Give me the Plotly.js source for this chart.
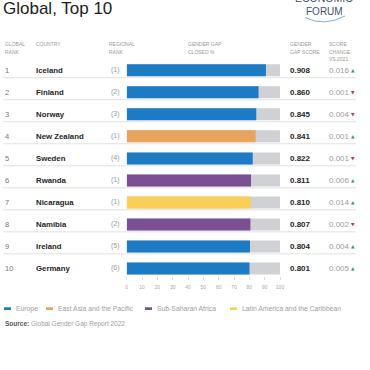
<!DOCTYPE html>
<html>
<head>
<meta charset="utf-8">
<script src="https://cdn.plot.ly/plotly-3.0.1.min.js"></script>
<style>
html,body{margin:0;padding:0;background:#fff;}
#chart{width:370px;height:370px;}
</style>
</head>
<body>
<div id="chart"></div>
<script>
// ---- data ----
const globalRank = [1, 2, 3, 4, 5, 6, 7, 8, 9, 10];
const countries = ['Iceland', 'Finland', 'Norway', 'New Zealand', 'Sweden', 'Rwanda', 'Nicaragua', 'Namibia', 'Ireland', 'Germany'];
const regionalRank = [1, 2, 3, 1, 4, 1, 1, 2, 5, 6];
const regions = ['Europe', 'Europe', 'Europe', 'East Asia and the Pacific', 'Europe', 'Sub-Saharan Africa', 'Latin America and the Caribbean', 'Sub-Saharan Africa', 'Europe', 'Europe'];
const scores = [0.908, 0.860, 0.845, 0.841, 0.822, 0.811, 0.810, 0.807, 0.804, 0.801];
const changes = [0.016, 0.001, 0.004, 0.001, 0.001, 0.006, 0.014, 0.002, 0.004, 0.005];
const changeDir = ['up', 'down', 'down', 'up', 'down', 'up', 'up', 'down', 'up', 'up'];
const regionNames = ['Europe', 'East Asia and the Pacific', 'Sub-Saharan Africa', 'Latin America and the Caribbean'];
const regionColorList = ['#1d7bc4', '#e8a35e', '#7a4f94', '#f9cf57'];
const axisTicks = [0, 10, 20, 30, 40, 50, 60, 70, 80, 90, 100];
const fullScale = 100;

// ---- layout helpers ----
const S = 370;
const fx = p => p / S;
const fy = p => 1 - p / S;
const FONT = 'Liberation Sans, Arial, Helvetica, sans-serif';
const regionColor = {};
regionNames.forEach((r, i) => regionColor[r] = regionColorList[i]);

const rowTop = 70.3, rowStep = 22.02;
const yTop = 1 - rowTop / rowStep;
const yBottom = yTop + S / rowStep;

const traces = [
  {
    type: 'bar', orientation: 'h',
    x: globalRank.map(() => fullScale), y: globalRank,
    width: 0.545, marker: {color: '#cfd1d5'},
    hoverinfo: 'skip', showlegend: false
  },
  {
    type: 'bar', orientation: 'h',
    x: scores.map(v => v * 100), y: globalRank,
    width: 0.545, marker: {color: regions.map(r => regionColor[r])},
    hoverinfo: 'skip', showlegend: false
  }
];

const annotations = [];
const shapes = [];
const ann = (o) => annotations.push(Object.assign({showarrow: false, borderpad: 0}, o));

// title
ann({text: 'Global, Top 10', xref: 'paper', yref: 'paper', x: fx(2), y: fy(8.5), xanchor: 'left', yanchor: 'middle',
  font: {family: FONT, size: 17, color: '#1c1c1c'}});

// logo
ann({text: 'ECONOMIC', xref: 'paper', yref: 'paper', x: fx(324), y: fy(-1.5), xanchor: 'center', yanchor: 'middle',
  font: {family: FONT, size: 10.5, color: '#3f5068'}});
ann({text: 'FORUM', xref: 'paper', yref: 'paper', x: fx(324), y: fy(11), xanchor: 'center', yanchor: 'middle',
  font: {family: FONT, size: 10, color: '#3f5068'}});
shapes.push({type: 'path', xref: 'paper', yref: 'paper',
  path: `M ${fx(305)} ${fy(17.5)} Q ${fx(324)} ${fy(27)} ${fx(345)} ${fy(16)}`,
  line: {color: '#86aacb', width: 1}});

// headers
const hdrFont = {family: FONT, size: 5, color: '#9a9a9a'};
const headers = [
  [3.5, ['GLOBAL', 'RANK']],
  [35, ['COUNTRY']],
  [108, ['REGIONAL', 'RANK']],
  [187, ['GENDER GAP', 'CLOSED %']],
  [289, ['GENDER', 'GAP SCORE']],
  [328, ['SCORE', 'CHANGE', 'VS 2021']]
];
const hdrY = [44, 51.5, 58.5];
headers.forEach(([x, lines]) => lines.forEach((t, k) =>
  ann({text: t, xref: 'paper', yref: 'paper', x: fx(x), y: fy(hdrY[k]), xanchor: 'left', yanchor: 'middle', font: hdrFont})));

// rows
globalRank.forEach((r, i) => {
  ann({text: String(r), xref: 'paper', yref: 'y', x: fx(4), y: r, xanchor: 'left', yanchor: 'middle',
    font: {family: FONT, size: 7.5, color: '#777'}});
  ann({text: countries[i], xref: 'paper', yref: 'y', x: fx(35), y: r, xanchor: 'left', yanchor: 'middle',
    font: {family: FONT, size: 7.8, color: '#262626', weight: 'bold'}});
  ann({text: '(' + regionalRank[i] + ')', xref: 'paper', yref: 'y', x: fx(121.5), y: r, xanchor: 'right', yanchor: 'middle',
    font: {family: FONT, size: 7, color: '#9a9a9a'}});
  ann({text: scores[i].toFixed(3), xref: 'paper', yref: 'y', x: fx(289), y: r, xanchor: 'left', yanchor: 'middle',
    font: {family: FONT, size: 8, color: '#262626', weight: 'bold'}});
  ann({text: changes[i].toFixed(3), xref: 'paper', yref: 'y', x: fx(328), y: r, xanchor: 'left', yanchor: 'middle',
    font: {family: FONT, size: 8, color: '#9c9c9c'}});
  ann({text: changeDir[i] === 'up' ? '▲' : '▼', xref: 'paper', yref: 'y', x: fx(352.5), y: r, xanchor: 'center', yanchor: 'middle',
    font: {family: 'DejaVu Sans, sans-serif', size: 4.5, color: changeDir[i] === 'up' ? '#3f9a5c' : '#c9323c'}});
  if (i < globalRank.length - 1) {
    shapes.push({type: 'line', xref: 'paper', yref: 'y', x0: fx(3), x1: fx(356), y0: r + 0.336, y1: r + 0.336,
      line: {color: '#e2e2e2', width: 1}, layer: 'below'});
  }
});

// legend
const legendX = [4, 46, 145, 230];
regionNames.forEach((name, i) => {
  shapes.push({type: 'rect', xref: 'paper', yref: 'paper', x0: fx(legendX[i]), x1: fx(legendX[i] + 7),
    y0: fy(310), y1: fy(307.3), fillcolor: regionColorList[i], line: {width: 0}});
  ann({text: name, xref: 'paper', yref: 'paper', x: fx(legendX[i] + 11), y: fy(308.5), xanchor: 'left', yanchor: 'middle',
    font: {family: FONT, size: 6.8, color: '#a0a0a0'}});
});

// source
ann({text: '<b>Source:</b> <span style="color:#a0a0a0">Global Gender Gap Report 2022</span>', xref: 'paper', yref: 'paper',
  x: fx(4), y: fy(323.5), xanchor: 'left', yanchor: 'middle', font: {family: FONT, size: 6.5, color: '#555'}});

const layout = {
  width: 370, height: 370,
  margin: {l: 0, r: 0, t: 0, b: 0, pad: 0},
  paper_bgcolor: '#fff', plot_bgcolor: 'rgba(0,0,0,0)',
  barmode: 'overlay', showlegend: false,
  xaxis: {
    domain: [fx(126.7), fx(280)], range: [0, 100],
    tickvals: axisTicks, ticktext: axisTicks.map(String),
    ticks: 'outside', ticklen: 3, tickcolor: '#dedede', tickwidth: 1,
    ticklabelstandoff: 3,
    tickfont: {family: FONT, size: 5, color: '#a8a8a8'},
    showgrid: false, zeroline: false, showline: false,
    anchor: 'free', position: fy(275.6), fixedrange: true
  },
  yaxis: {range: [yBottom, yTop], visible: false, showgrid: false, zeroline: false, fixedrange: true},
  annotations: annotations,
  shapes: shapes
};

Plotly.newPlot('chart', traces, layout, {displayModeBar: false, staticPlot: true});
</script>
</body>
</html>
